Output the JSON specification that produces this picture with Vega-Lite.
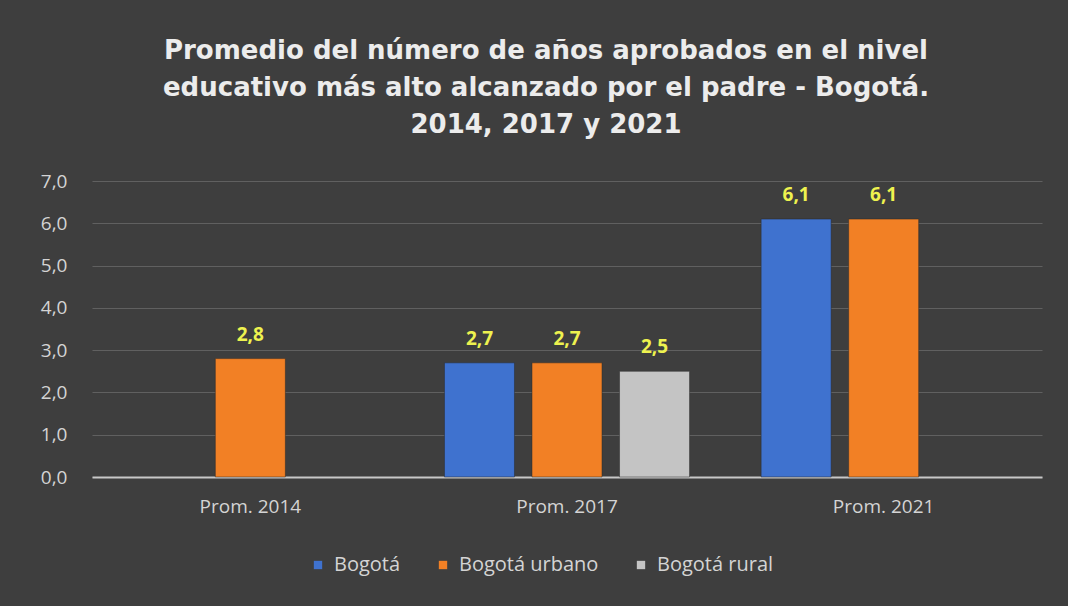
{
  "$schema": "https://vega.github.io/schema/vega-lite/v6.json",
  "width": 950,
  "height": 296,
  "autosize": {"type": "none"},
  "padding": {"left": 92, "top": 181, "right": 26, "bottom": 129},
  "background": "#3e3e3e",
  "title": {
    "text": ["Promedio del número de años aprobados en el nivel", "educativo más alto alcanzado por el padre - Bogotá.", "2014,  2017 y 2021"],
    "font": "DejaVu Sans",
    "fontSize": 26,
    "fontWeight": "bold",
    "color": "#ececec",
    "lineHeight": 37,
    "anchor": "middle",
    "dx": -21,
    "offset": 34
  },
  "data": {
    "values": [
      {"cat": "Prom. 2014", "serie": "Bogotá urbano", "valor": 2.8},
      {"cat": "Prom. 2017", "serie": "Bogotá", "valor": 2.7},
      {"cat": "Prom. 2017", "serie": "Bogotá urbano", "valor": 2.7},
      {"cat": "Prom. 2017", "serie": "Bogotá rural", "valor": 2.5},
      {"cat": "Prom. 2021", "serie": "Bogotá", "valor": 6.1},
      {"cat": "Prom. 2021", "serie": "Bogotá urbano", "valor": 6.1}
    ]
  },
  "encoding": {
    "x": {
      "field": "cat",
      "type": "nominal",
      "title": null,
      "sort": null,
      "scale": {"domain": ["Prom. 2014", "Prom. 2017", "Prom. 2021"], "paddingInner": 0.226, "paddingOuter": 0.113},
      "axis": {
        "labelAngle": 0,
        "labelFont": "Open Sans",
        "labelFontSize": 19,
        "labelColor": "#d4d4d4",
        "labelPadding": 20,
        "ticks": false,
        "domainColor": "#c8c8c8",
        "domainWidth": 2
      }
    },
    "xOffset": {
      "field": "serie",
      "type": "nominal",
      "scale": {"domain": ["Bogotá", "Bogotá urbano", "Bogotá rural"], "paddingInner": 0.2, "paddingOuter": 0}
    },
    "y": {
      "field": "valor",
      "type": "quantitative",
      "title": null,
      "scale": {"domain": [0, 7], "nice": false},
      "axis": {
        "values": [0, 1, 2, 3, 4, 5, 6, 7],
        "format": ".1f",
        "labelFont": "Open Sans",
        "labelFontSize": 19,
        "labelColor": "#d4d4d4",
        "labelPadding": 25,
        "ticks": false,
        "domain": false,
        "gridColor": "#606060",
        "gridWidth": 1
      }
    }
  },
  "layer": [
    {
      "mark": {"type": "bar", "stroke": "#2a2a2a", "strokeWidth": 1, "strokeOpacity": 0.5},
      "encoding": {
        "color": {
          "field": "serie",
          "type": "nominal",
          "title": null,
          "scale": {"domain": ["Bogotá", "Bogotá urbano", "Bogotá rural"], "range": ["#3f72cf", "#f28025", "#c4c4c4"]},
          "legend": {
            "orient": "none",
            "legendX": 216,
            "legendY": 374,
            "direction": "horizontal",
            "symbolType": "square",
            "symbolSize": 70,
            "symbolStrokeWidth": 0,
            "symbolOffset": 0,
            "labelOffset": 6,
            "labelFont": "Open Sans",
            "labelFontSize": 20,
            "labelColor": "#d4d4d4",
            "columnPadding": 32
          }
        }
      }
    },
    {
      "mark": {"type": "text", "baseline": "bottom", "dy": -14, "font": "Open Sans", "fontSize": 19, "fontWeight": "bold", "color": "#eef24f"},
      "encoding": {
        "text": {"field": "valor", "type": "quantitative", "format": ".1f"}
      }
    }
  ],
  "config": {
    "locale": {"number": {"decimal": ",", "thousands": ".", "grouping": [3], "currency": ["", " €"]}},
    "view": {"stroke": null}
  }
}
